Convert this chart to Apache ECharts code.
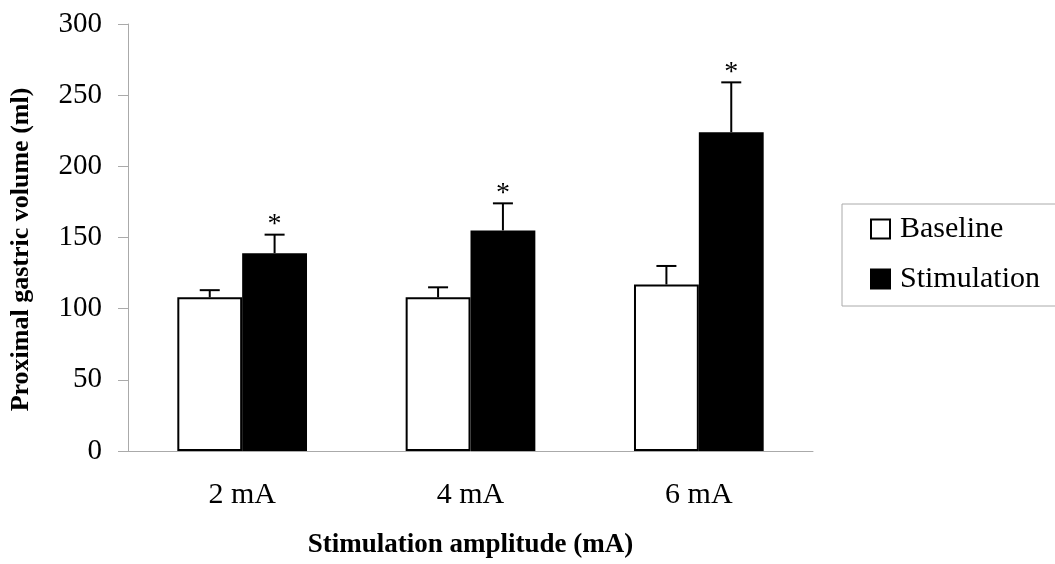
<!DOCTYPE html>
<html lang="en">
<head>
    <meta charset="UTF-8">
    <title>Proximal gastric volume</title>
    <script src="https://cdn.jsdelivr.net/npm/echarts@6/dist/echarts.min.js"></script>
    <style>
        html, body { margin: 0; padding: 0; background: #fff; }
        #chart { width: 1055px; height: 564px; }
    </style>
</head>
<body>
<div id="chart"></div>
<script>
    // data
    var categories = ['2 mA', '4 mA', '6 mA'];
    var baseline = [108, 108, 117];
    var baselineSd = [5, 7, 13];
    var stimulation = [139, 155, 224];
    var stimulationSd = [13, 19, 35];
    var marks = ['*', '*', '*']; // significance above stimulation bars
    var yTicks = { min: 0, max: 300, interval: 50 };

    var FONT = '"Liberation Serif", "Times New Roman", serif';
    var BAR_FRAC = 0.284; // bar width as share of category width

    function errData(vals, sds, labels) {
        return vals.map(function (v, i) { return [i, v, sds[i], labels ? labels[i] : '']; });
    }

    function errSeries(name, data, side) {
        return {
            name: name + ' SD',
            type: 'custom',
            z: 5,
            silent: true,
            data: data,
            encode: { x: 0, y: 1 },
            renderItem: function (params, api) {
                var i = api.value(0);
                var bw = api.size([1, 0])[0];
                var x = api.coord([i, 0])[0] + side * bw * BAR_FRAC / 2;
                var yb = api.coord([i, api.value(1)])[1];
                var yt = api.coord([i, api.value(1) + api.value(2)])[1];
                var st = { stroke: '#000', lineWidth: 2 };
                var kids = [
                    { type: 'line', shape: { x1: x, y1: yb, x2: x, y2: yt }, style: st },
                    { type: 'line', shape: { x1: x - 10, y1: yt, x2: x + 10, y2: yt }, style: st }
                ];
                var lab = api.value(3);
                if (lab && lab !== '-') {
                    kids.push({
                        type: 'text',
                        style: {
                            text: String(lab), x: x, y: yt + 4,
                            fill: '#000', font: '28px ' + FONT,
                            align: 'center', verticalAlign: 'bottom'
                        }
                    });
                }
                return { type: 'group', children: kids };
            }
        };
    }

    var chart = echarts.init(document.getElementById('chart'));
    var option = {
        animation: false,
        backgroundColor: '#fff',
        textStyle: { fontFamily: FONT, color: '#000' },
        grid: { left: 128, right: 242, top: 24, bottom: 112 },
        legend: {
            orient: 'vertical',
            left: 842, top: 204,
            data: ['Baseline', 'Stimulation'],
            icon: 'rect',
            itemWidth: 19, itemHeight: 19,
            itemGap: 20,
            padding: [10, 40, 12, 28],
            borderColor: '#aaa', borderWidth: 1,
            textStyle: { fontFamily: FONT, fontSize: 30, color: '#000', padding: [0, 0, 0, 5] }
        },
        xAxis: {
            type: 'category',
            data: categories,
            name: 'Stimulation amplitude (mA)',
            nameLocation: 'middle',
            nameGap: 81,
            nameTextStyle: { fontFamily: FONT, fontSize: 27, fontWeight: 'bold', color: '#000' },
            axisLine: { lineStyle: { color: '#aaa', width: 1 } },
            axisTick: { length: 10, lineStyle: { color: '#aaa' } },
            axisLabel: { margin: 29, fontFamily: FONT, fontSize: 30, color: '#000' }
        },
        yAxis: {
            type: 'value',
            min: yTicks.min, max: yTicks.max, interval: yTicks.interval,
            name: 'Proximal gastric volume (ml)',
            nameLocation: 'middle',
            nameGap: 94,
            nameTextStyle: { fontFamily: FONT, fontSize: 26, fontWeight: 'bold', color: '#000', padding: [0, 24, 0, 0] },
            splitLine: { show: false },
            axisLine: { show: true, lineStyle: { color: '#aaa', width: 1 } },
            axisTick: { show: true, length: 10, lineStyle: { color: '#aaa' } },
            axisLabel: { margin: 26, fontFamily: FONT, fontSize: 29, color: '#000' }
        },
        series: [
            {
                name: 'Baseline',
                type: 'bar',
                barWidth: (BAR_FRAC * 100) + '%',
                barGap: '0%',
                data: baseline,
                itemStyle: { color: '#fff', borderColor: '#000', borderWidth: 2 }
            },
            {
                name: 'Stimulation',
                type: 'bar',
                barWidth: (BAR_FRAC * 100) + '%',
                barGap: '0%',
                data: stimulation,
                itemStyle: { color: '#000', borderColor: '#000', borderWidth: 2 }
            },
            errSeries('Baseline', errData(baseline, baselineSd), -1),
            errSeries('Stimulation', errData(stimulation, stimulationSd, marks), 1)
        ]
    };
    chart.setOption(option);
    window.onresize = function () { chart.resize(); };
</script>
</body>
</html>
